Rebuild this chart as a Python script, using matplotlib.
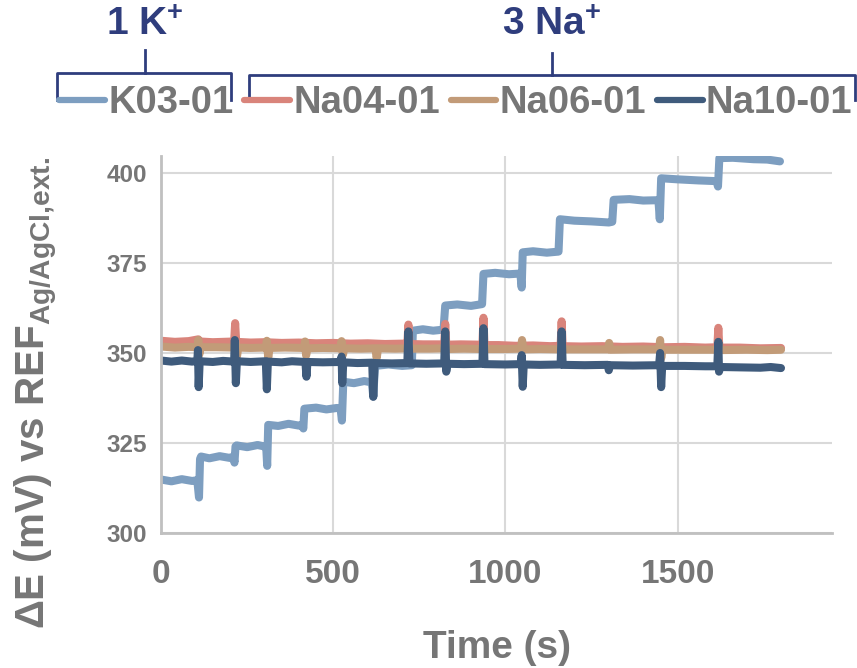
import matplotlib
matplotlib.use('Agg')
import matplotlib.pyplot as plt
from matplotlib.lines import Line2D

plt.rcParams['font.family'] = ['Liberation Sans', 'DejaVu Sans']
plt.rcParams['font.weight'] = 'bold'
plt.rcParams['mathtext.fontset'] = 'custom'
plt.rcParams['mathtext.rm'] = 'Liberation Sans'
plt.rcParams['mathtext.bf'] = 'Liberation Sans:bold'

# K03-01 (K+ sensor)
t_k03 = [0, 30, 60, 90, 105, 110, 113, 116, 140, 170, 200, 210, 213, 216, 219, 250, 280, 300, 305, 308,
         311, 340, 370, 400, 410, 413, 416, 450, 480, 510, 521, 525, 529, 560, 590, 612, 616, 621, 660, 700,
         728, 731, 760, 790, 820, 825, 860, 900, 932, 936, 970, 1010, 1043, 1047, 1050, 1080, 1120, 1154,
         1158, 1200, 1250, 1300, 1310, 1314, 1360, 1400, 1444, 1448, 1452, 1500, 1560, 1613, 1617, 1621,
         1660, 1720, 1760, 1797]
v_k03 = [314.8, 314.3, 314.9, 314.4, 314.6, 309.8, 320.5, 321.2, 320.7, 321.3, 320.8, 321.2, 319.5, 324.0,
         324.3, 323.8, 324.4, 324.0, 324.1, 318.6, 330.0, 329.7, 330.3, 329.8, 330.0, 329.0, 334.5, 334.8,
         334.3, 334.7, 334.6, 331.2, 342.0, 341.6, 342.2, 341.8, 337.9, 346.4, 346.8, 346.4, 346.6, 356.2,
         356.6, 356.2, 356.5, 363.2, 363.5, 363.1, 363.6, 372.0, 372.3, 371.9, 372.1, 368.2, 378.0, 378.3,
         377.9, 378.2, 387.2, 386.8, 386.6, 386.3, 386.5, 392.6, 392.8, 392.4, 392.5, 387.2, 398.6, 398.3,
         398.0, 397.8, 396.3, 404.2, 404.3, 403.9, 403.8, 403.3]

# Na04-01
t_na04 = [0, 40, 80, 108, 112, 150, 212, 215, 218, 260, 300, 350, 400, 450, 500, 550, 600, 650, 700, 715,
          718, 721, 760, 822, 825, 828, 870, 933, 936, 939, 980, 1030, 1080, 1130, 1160, 1163, 1166, 1220,
          1280, 1340, 1400, 1460, 1520, 1580, 1615, 1618, 1621, 1680, 1740, 1800]
v_na04 = [353.4, 353.1, 353.3, 353.8, 353.2, 353.0, 353.2, 358.3, 353.1, 352.9, 353.0, 352.8, 352.9, 352.7,
          352.8, 352.6, 352.7, 352.5, 352.6, 352.5, 357.9, 352.5, 352.4, 352.4, 358.1, 352.3, 352.4, 352.3,
          359.8, 352.2, 352.2, 352.0, 352.1, 351.9, 352.0, 358.8, 351.9, 351.8, 351.9, 351.7, 351.8, 351.6,
          351.7, 351.5, 351.6, 357.0, 351.5, 351.5, 351.3, 351.4]

# Na06-01
t_na06 = [0, 40, 80, 106, 108, 111, 114, 160, 212, 216, 220, 224, 260, 304, 307, 311, 315, 360, 415, 418,
          421, 425, 470, 521, 524, 528, 532, 580, 622, 626, 630, 680, 716, 719, 722, 780, 823, 826, 829, 880,
          934, 937, 940, 1000, 1045, 1048, 1052, 1100, 1160, 1163, 1166, 1230, 1298, 1301, 1304, 1370, 1446,
          1449, 1452, 1456, 1520, 1615, 1618, 1621, 1700, 1760, 1800]
v_na06 = [351.8, 351.5, 351.7, 351.6, 353.6, 349.6, 351.6, 351.6, 351.5, 353.0, 348.8, 351.5, 351.4, 351.5,
          353.4, 348.7, 351.4, 351.5, 351.4, 353.2, 349.3, 351.3, 351.4, 351.3, 353.3, 349.5, 351.3, 351.2,
          351.3, 348.6, 351.3, 351.2, 351.3, 353.2, 351.2, 351.2, 351.3, 353.4, 351.1, 351.2, 351.1, 353.5,
          351.1, 351.1, 351.2, 353.6, 351.0, 351.1, 351.0, 353.3, 351.0, 351.0, 351.0, 352.8, 350.9, 351.0,
          351.0, 353.6, 348.5, 350.9, 350.9, 350.9, 353.0, 350.8, 350.9, 350.8, 350.9]

# Na10-01
t_na10 = [0, 30, 60, 90, 105, 107, 109, 112, 150, 180, 212, 214, 217, 220, 260, 304, 307, 310, 350, 380,
          419, 422, 425, 470, 521, 524, 526, 529, 570, 613, 616, 620, 670, 715, 718, 721, 770, 822, 825, 828,
          831, 880, 933, 936, 939, 1000, 1044, 1047, 1050, 1053, 1100, 1160, 1163, 1166, 1230, 1297, 1300,
          1303, 1370, 1446, 1449, 1452, 1455, 1520, 1580, 1615, 1618, 1620, 1623, 1680, 1740, 1770, 1800]
v_na10 = [347.9, 347.6, 347.9, 347.6, 347.8, 350.8, 340.5, 347.7, 347.5, 347.8, 347.6, 353.6, 341.6, 347.7,
          347.5, 347.7, 339.9, 347.6, 347.4, 347.7, 347.5, 343.4, 347.5, 347.4, 347.5, 349.0, 341.6, 347.4,
          347.2, 347.3, 337.8, 347.2, 347.1, 347.2, 356.0, 347.1, 347.0, 347.1, 356.0, 344.8, 347.0, 346.9,
          347.0, 356.9, 346.9, 346.8, 346.9, 349.4, 340.6, 346.8, 346.7, 346.8, 356.0, 346.7, 346.6, 346.7,
          345.2, 346.6, 346.5, 346.6, 350.0, 340.5, 346.4, 346.4, 346.3, 346.3, 353.1, 344.8, 346.1, 346.0,
          345.9, 346.1, 345.8]

names = ['K03-01', 'Na04-01', 'Na06-01', 'Na10-01']
colors = ['#7d9ec0', '#d9847b', '#c29b78', '#3f5b7c']

fig = plt.figure(figsize=(8.57, 6.68), dpi=100)
ax = fig.add_axes([0.188, 0.2025, 0.7828, 0.564])

series = [(t_k03, v_k03), (t_na04, v_na04), (t_na06, v_na06), (t_na10, v_na10)]
for (t, v), name, c in zip(series, names, colors):
    ax.plot(t, v, color=c, lw=5.8, solid_capstyle='round', solid_joinstyle='round', label=name)

ax.set_xlim(0, 1948)
ax.set_ylim(300, 404.8)
ax.set_xticks([0, 500, 1000, 1500])
ax.set_yticks([300, 325, 350, 375, 400])
ax.grid(True, color='#d9d9d9', lw=1.5)
ax.set_axisbelow(True)
for s in ['top', 'right']:
    ax.spines[s].set_visible(False)
for s in ['left', 'bottom']:
    ax.spines[s].set_color('#c0c0c0')
    ax.spines[s].set_linewidth(2)
ax.tick_params(length=0)
ax.tick_params(axis='x', labelsize=24, labelcolor='#767676', pad=19)
ax.tick_params(axis='y', labelsize=17.5, labelcolor='#767676', pad=10)
for lab in ax.get_xticklabels() + ax.get_yticklabels():
    lab.set_fontweight('bold')

ax.set_xlabel('Time (s)', fontsize=28, color='#767676', fontweight='bold', labelpad=29)
ax.set_ylabel(r'$\mathrm{\Delta}$E (mV) vs REF$_{\mathrm{Ag/AgCl{,}ext.}}$', fontsize=29,
              color='#767676', fontweight='bold')
ax.yaxis.set_label_coords(-0.150, 0.372)

# legend across the top
leg_handles = [Line2D([], [], color=c, lw=4.5, solid_capstyle='round') for c in colors]
fig.legend(leg_handles, names, loc='center', bbox_to_anchor=(0.532, 0.846), ncol=4, frameon=False,
           handlelength=1.2, handletextpad=0.08, columnspacing=0.28,
           labelcolor='#767676', prop={'weight': 'bold', 'size': 27.5})

# braces and group labels (figure pixel coords, y from top)
W, H = 857, 668
brace_col = '#2f3d7d'

def brace(x0, x1, xm, ybar, ytop, ybot):
    xs = [x0, x0, x1, x1]
    ys = [ybot, ybar, ybar, ybot]
    fig.add_artist(Line2D([x / W for x in xs], [1 - y / H for y in ys], color=brace_col, lw=2,
                          solid_joinstyle='round', transform=fig.transFigure))
    fig.add_artist(Line2D([xm / W, xm / W], [1 - ybar / H, 1 - ytop / H], color=brace_col, lw=2,
                          transform=fig.transFigure))

brace(57, 231, 145, 73, 50, 100)
brace(249, 855, 552, 75, 53, 100)
fig.text(145 / W, 1 - 25 / H, r'1 K$^{\mathbf{+}}$', ha='center', va='center', fontsize=28,
         color=brace_col, fontweight='bold')
fig.text(552 / W, 1 - 25 / H, r'3 Na$^{\mathbf{+}}$', ha='center', va='center', fontsize=28,
         color=brace_col, fontweight='bold')

fig.savefig('out.png', dpi=100)
